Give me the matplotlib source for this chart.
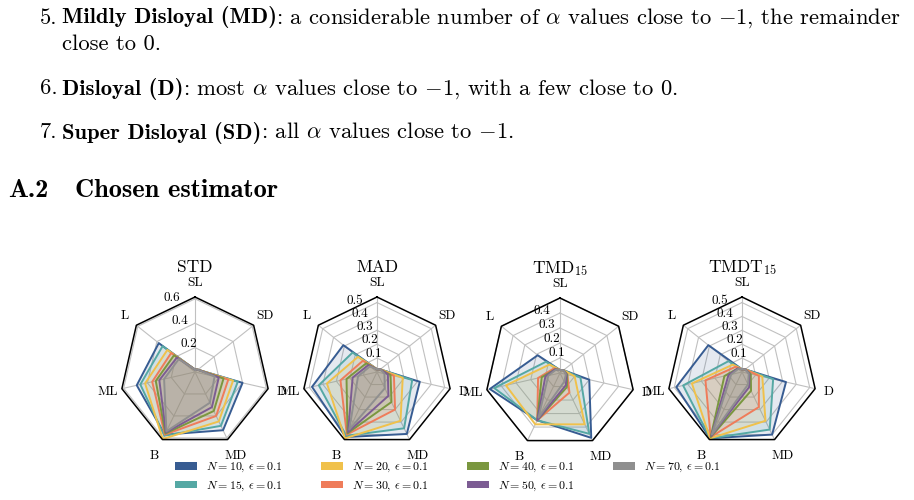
import numpy as np
import matplotlib
matplotlib.use("Agg")
import matplotlib.pyplot as plt
import matplotlib.transforms as mtransforms
from matplotlib.patches import Patch

plt.rcParams['font.family'] = 'cmr10'
plt.rcParams['mathtext.fontset'] = 'cm'
plt.rcParams['axes.unicode_minus'] = False
plt.rcParams['axes.formatter.use_mathtext'] = True

# categories, clockwise from the top
categories = ['SL', 'SD', 'D', 'MD', 'B', 'ML', 'L']
series_labels = [r'$N = 10,\, \epsilon = 0.1$', r'$N = 15,\, \epsilon = 0.1$',
                 r'$N = 20,\, \epsilon = 0.1$', r'$N = 30,\, \epsilon = 0.1$',
                 r'$N = 40,\, \epsilon = 0.1$', r'$N = 50,\, \epsilon = 0.1$',
                 r'$N = 70,\, \epsilon = 0.1$']
colors = ['#375c92', '#55a8a4', '#f0c14b', '#ef7c5a', '#7a973f', '#7c5c93', '#8f8f8f']

# values per series (rows) along categories (columns)
std_vals = [
    [0.02, 0.03, 0.40, 0.53, 0.57, 0.49, 0.38],
    [0.02, 0.03, 0.36, 0.49, 0.58, 0.46, 0.34],
    [0.02, 0.03, 0.32, 0.45, 0.61, 0.42, 0.29],
    [0.02, 0.03, 0.28, 0.40, 0.57, 0.36, 0.25],
    [0.02, 0.03, 0.24, 0.355, 0.56, 0.33, 0.22],
    [0.02, 0.03, 0.20, 0.32, 0.55, 0.30, 0.19],
    [0.02, 0.03, 0.165, 0.28, 0.54, 0.26, 0.17],
]
mad_vals = [
    [0.02, 0.03, 0.316, 0.495, 0.52, 0.48, 0.31],
    [0.02, 0.03, 0.26, 0.45, 0.51, 0.43, 0.225],
    [0.02, 0.03, 0.19, 0.39, 0.53, 0.37, 0.175],
    [0.02, 0.03, 0.125, 0.30, 0.50, 0.27, 0.13],
    [0.02, 0.03, 0.10, 0.24, 0.49, 0.225, 0.10],
    [0.02, 0.03, 0.08, 0.19, 0.48, 0.18, 0.08],
    [0.02, 0.03, 0.055, 0.13, 0.46, 0.14, 0.065],
]
tmd_vals = [
    [0.02, 0.03, 0.20, 0.48, 0.35, 0.48, 0.19],
    [0.02, 0.03, 0.14, 0.45, 0.35, 0.45, 0.12],
    [0.02, 0.03, 0.10, 0.38, 0.38, 0.37, 0.09],
    [0.02, 0.03, 0.05, 0.145, 0.35, 0.15, 0.05],
    [0.02, 0.03, 0.05, 0.105, 0.35, 0.125, 0.04],
    [0.02, 0.03, 0.045, 0.09, 0.35, 0.10, 0.04],
    [0.02, 0.03, 0.04, 0.065, 0.33, 0.08, 0.035],
]
tmdt_vals = [
    [0.02, 0.03, 0.325, 0.50, 0.53, 0.485, 0.31],
    [0.02, 0.03, 0.23, 0.46, 0.53, 0.435, 0.125],
    [0.02, 0.03, 0.15, 0.39, 0.53, 0.37, 0.085],
    [0.02, 0.03, 0.125, 0.28, 0.52, 0.27, 0.06],
    [0.02, 0.03, 0.065, 0.15, 0.52, 0.13, 0.04],
    [0.02, 0.03, 0.055, 0.12, 0.51, 0.10, 0.04],
    [0.02, 0.03, 0.05, 0.10, 0.50, 0.08, 0.035],
]

titles = ['STD', 'MAD', r'TMD$_{15}$', r'TMDT$_{15}$']
all_vals = [std_vals, mad_vals, tmd_vals, tmdt_vals]
rmaxes = [0.615, 0.54, 0.50, 0.54]
grid_levels = [[0.2, 0.4, 0.6], [0.1, 0.2, 0.3, 0.4, 0.5],
               [0.1, 0.2, 0.3, 0.4, 0.5], [0.1, 0.2, 0.3, 0.4, 0.5]]
tick_levels = [[0.2, 0.4, 0.6], [0.1, 0.2, 0.3, 0.4, 0.5],
               [0.1, 0.2, 0.3, 0.4], [0.1, 0.2, 0.3, 0.4, 0.5]]
centers = [(195, 372), (377, 372), (560, 373), (742, 372)]

W, H = 914, 500
fig = plt.figure(figsize=(W / 100, H / 100), dpi=100)
renderer = fig.canvas.get_renderer()


def put_line(x, y, pieces, size):
    # pieces are written one after the other; bold bits use cmb10
    for s, fam in pieces:
        t = fig.text(x / W, 1 - y / H, s, family=fam, fontsize=size, va='baseline')
        x = t.get_window_extent(renderer).x1 - 0.5


# ---- page text ----
body = 16.3
fig.text(40 / W, 1 - 23.5 / H, '5.', fontsize=body, va='baseline')
put_line(62, 23.5, [('Mildly Disloyal (MD)', 'cmb10'),
                    (r': a considerable number of $\alpha$ values close to $-1$, the remainder', 'cmr10')], body)
fig.text(62 / W, 1 - 50.5 / H, 'close to 0.', fontsize=body, va='baseline')
fig.text(40 / W, 1 - 94.5 / H, '6.', fontsize=body, va='baseline')
put_line(62, 94.5, [('Disloyal (D)', 'cmb10'),
                    (r': most $\alpha$ values close to $-1$, with a few close to 0.', 'cmr10')], body)
fig.text(40 / W, 1 - 138.5 / H, '7.', fontsize=body, va='baseline')
put_line(62, 138.5, [('Super Disloyal (SD)', 'cmb10'),
                     (r': all $\alpha$ values close to $-1$.', 'cmr10')], body)
fig.text(8 / W, 1 - 197 / H, 'A.2', family='cmb10', fontsize=19, va='baseline')
fig.text(75 / W, 1 - 197 / H, 'Chosen estimator', family='cmb10', fontsize=19, va='baseline')

# ---- radar charts ----
n = len(categories)
angles = np.linspace(0, 2 * np.pi, n, endpoint=False)
closed = np.append(angles, angles[0])
R = 75
label_angle = np.deg2rad(-20)

for k in range(4):
    cx, cy = centers[k]
    ax = fig.add_axes([(cx - R) / W, 1 - (cy + R) / H, 2 * R / W, 2 * R / H],
                      projection='polar')
    ax.set_theta_offset(np.pi / 2)
    ax.set_theta_direction(-1)
    ax.set_ylim(0, rmaxes[k])
    ax.spines['polar'].set_visible(False)
    ax.grid(False)
    ax.set_xticks([])
    ax.set_yticks([])
    ax.patch.set_alpha(0)

    # polygon gridlines and spokes
    for lv in grid_levels[k]:
        ax.plot(closed, [lv] * (n + 1), color='#c0c0c0', lw=0.8, zorder=1)
    for a in angles:
        ax.plot([a, a], [0, rmaxes[k]], color='#c0c0c0', lw=0.8, zorder=1)
    ax.plot(closed, [rmaxes[k]] * (n + 1), color='black', lw=1.1, zorder=5,
            clip_on=False)

    for vals, col in zip(all_vals[k], colors):
        v = np.append(vals, vals[0])
        ax.fill(closed, v, color=col, alpha=0.13, lw=0, zorder=2)
        ax.plot(closed, v, color=col, lw=1.4, zorder=3)

    shifted = mtransforms.offset_copy(ax.transData, fig=fig, x=2, y=5.5, units='dots')
    for t in tick_levels[k]:
        ax.text(label_angle, t, f'{t:.1f}', fontsize=9.5, ha='center', va='center',
                transform=shifted, zorder=6)

    for a, lab in zip(angles, categories):
        fac = 1.24 if lab in ('B', 'MD') else 1.19
        ax.text(a, rmaxes[k] * fac, lab, fontsize=9.5, ha='center', va='center')
    ax.text(0, rmaxes[k] * 1.39, titles[k], fontsize=12.5, ha='center', va='center')

handles = [Patch(facecolor=c, edgecolor='none') for c in colors]
fig.legend(handles, series_labels, loc='center', bbox_to_anchor=(448 / W, 1 - 477 / H),
           ncol=4, frameon=False, fontsize=8.6, handlelength=1.8, handleheight=0.6,
           handletextpad=0.8, columnspacing=3.2, labelspacing=0.42)

fig.savefig('out.png', dpi=100)
